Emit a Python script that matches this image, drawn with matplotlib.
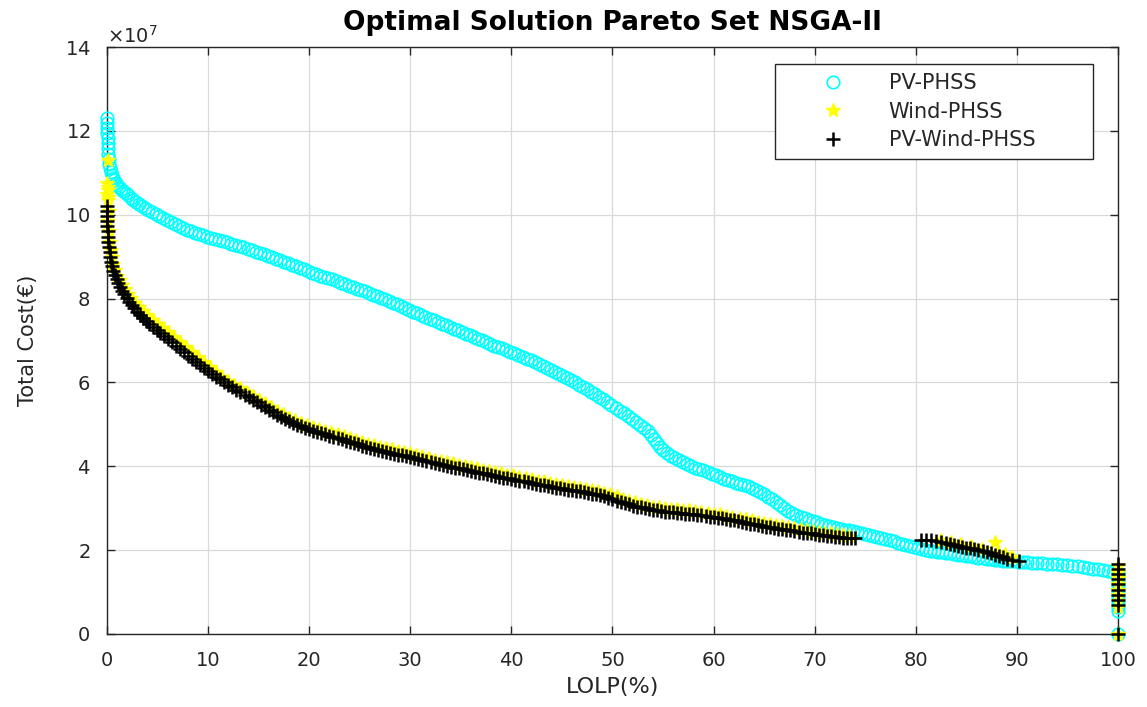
import matplotlib
matplotlib.use("Agg")
import matplotlib.pyplot as plt
from matplotlib.ticker import ScalarFormatter, MultipleLocator

# ---------------- data: (LOLP %, total cost in units of 1e7 EUR) ----------------
pv_phss = [
    (0.0, 12.30), (0.0, 12.18), (0.02, 12.06), (0.03, 11.94), (0.05, 11.82), (0.08, 11.70),
    (0.1, 11.58), (0.13, 11.46), (0.17, 11.34), (0.22, 11.22), (0.28, 11.12), (0.36, 11.03),
    (0.45, 10.95), (0.56, 10.88), (0.7, 10.82), (0.85, 10.76), (1.0, 10.71), (1.2, 10.66),
    (1.4, 10.61), (1.6, 10.56), (1.85, 10.51), (2.1, 10.46), (2.35, 10.41), (2.6, 10.36),
    (2.9, 10.31), (3.2, 10.26), (3.5, 10.21), (3.8, 10.16), (4.1, 10.11), (4.45, 10.06),
    (4.8, 10.01), (5.15, 9.96), (5.5, 9.92), (5.9, 9.87), (6.3, 9.82), (6.7, 9.77),
    (7.1, 9.72), (7.5, 9.68), (7.9, 9.64), (8.3, 9.60), (8.7, 9.57), (9.1, 9.54),
    (9.5, 9.51), (9.9, 9.48), (10.3, 9.45), (10.7, 9.42), (11.1, 9.39), (11.5, 9.37),
    (11.9, 9.34), (12.3, 9.31), (12.7, 9.28), (13.1, 9.25), (13.5, 9.22), (13.9, 9.19),
    (14.3, 9.16), (14.7, 9.12), (15.1, 9.09), (15.5, 9.06), (15.9, 9.02), (16.3, 8.99),
    (16.7, 8.95), (17.1, 8.92), (17.5, 8.88), (17.9, 8.85), (18.3, 8.81), (18.7, 8.78),
    (19.1, 8.74), (19.5, 8.70), (19.9, 8.66), (20.3, 8.62), (20.7, 8.58), (21.1, 8.55),
    (21.5, 8.52), (21.9, 8.49), (22.3, 8.46), (22.7, 8.42), (23.1, 8.38), (23.5, 8.35),
    (23.9, 8.31), (24.3, 8.27), (24.7, 8.24), (25.1, 8.20), (25.5, 8.17), (25.9, 8.13),
    (26.3, 8.09), (26.7, 8.05), (27.1, 8.01), (27.5, 7.98), (27.9, 7.94), (28.3, 7.90),
    (28.7, 7.86), (29.1, 7.82), (29.5, 7.77), (29.9, 7.73), (30.3, 7.69), (30.7, 7.65),
    (31.1, 7.60), (31.5, 7.56), (31.9, 7.52), (32.3, 7.48), (32.7, 7.44), (33.1, 7.40),
    (33.5, 7.36), (33.9, 7.32), (34.3, 7.28), (34.7, 7.24), (35.1, 7.20), (35.5, 7.16),
    (35.9, 7.12), (36.3, 7.08), (36.7, 7.04), (37.1, 7.00), (37.5, 6.96), (37.9, 6.92),
    (38.3, 6.88), (38.7, 6.85), (39.1, 6.81), (39.5, 6.77), (39.9, 6.73), (40.3, 6.69),
    (40.7, 6.65), (41.1, 6.61), (41.5, 6.57), (41.9, 6.53), (42.3, 6.49), (42.7, 6.44),
    (43.1, 6.40), (43.5, 6.35), (43.9, 6.30), (44.3, 6.26), (44.7, 6.21), (45.1, 6.16),
    (45.5, 6.11), (45.9, 6.06), (46.3, 6.00), (46.7, 5.95), (47.1, 5.90), (47.5, 5.84),
    (47.9, 5.78), (48.3, 5.72), (48.7, 5.66), (49.1, 5.60), (49.5, 5.53), (49.9, 5.46),
    (50.3, 5.39), (50.7, 5.32), (51.1, 5.26), (51.5, 5.20), (51.9, 5.13), (52.3, 5.06),
    (52.7, 4.99), (53.1, 4.92), (53.5, 4.84), (53.8, 4.75), (54.1, 4.65), (54.4, 4.55),
    (54.7, 4.46), (55.0, 4.38), (55.4, 4.31), (55.8, 4.25), (56.2, 4.19), (56.6, 4.14),
    (57.0, 4.09), (57.4, 4.05), (57.8, 4.01), (58.2, 3.97), (58.6, 3.94), (59.0, 3.90),
    (59.4, 3.86), (59.8, 3.82), (60.2, 3.78), (60.6, 3.74), (61.0, 3.70), (61.4, 3.67),
    (61.8, 3.64), (62.2, 3.61), (62.6, 3.58), (63.0, 3.55), (63.4, 3.52), (63.8, 3.48),
    (64.2, 3.44), (64.6, 3.39), (65.0, 3.33), (65.4, 3.27), (65.8, 3.21), (66.2, 3.14),
    (66.6, 3.07), (67.0, 3.00), (67.4, 2.94), (67.8, 2.89), (68.2, 2.84), (68.6, 2.80),
    (69.0, 2.76), (69.4, 2.72), (69.8, 2.69), (70.2, 2.66), (70.6, 2.63), (71.0, 2.60),
    (71.4, 2.58), (71.8, 2.55), (72.2, 2.53), (72.6, 2.51), (73.0, 2.49), (73.4, 2.47),
    (73.8, 2.45), (74.2, 2.43), (74.6, 2.41), (75.0, 2.39), (75.4, 2.37), (75.8, 2.34),
    (76.2, 2.32), (76.6, 2.29), (77.0, 2.26), (77.4, 2.24), (77.8, 2.21), (78.2, 2.18),
    (78.6, 2.15), (79.0, 2.12), (79.4, 2.10), (79.8, 2.07), (80.2, 2.05), (80.6, 2.03),
    (81.0, 2.01), (81.4, 1.99), (81.8, 1.98), (82.2, 1.96), (82.6, 1.95), (83.0, 1.93),
    (83.4, 1.92), (83.8, 1.90), (84.2, 1.89), (84.6, 1.88), (85.0, 1.86), (85.4, 1.85),
    (85.8, 1.84), (86.2, 1.82), (86.6, 1.81), (87.0, 1.80), (87.4, 1.78), (87.8, 1.77),
    (88.2, 1.76), (88.6, 1.75), (89.0, 1.74), (89.4, 1.73), (89.8, 1.73), (90.2, 1.72),
    (90.6, 1.72), (91.0, 1.71), (91.5, 1.70), (92.0, 1.70), (92.5, 1.69), (93.0, 1.68),
    (93.5, 1.67), (94.0, 1.66), (94.5, 1.65), (95.0, 1.64), (95.5, 1.63), (96.0, 1.62),
    (96.5, 1.60), (97.0, 1.58), (97.5, 1.56), (98.0, 1.54), (98.5, 1.52), (99.0, 1.50),
    (99.5, 1.47), (100, 1.45), (100, 1.35), (100, 1.25), (100, 1.15), (100, 1.05),
    (100, 0.95), (100, 0.85), (100, 0.75), (100, 0.65), (100, 0.55), (100, 0.0),
]

wind_phss = [
    (0.05, 11.30), (0.0, 10.75), (0.05, 10.65), (0.1, 10.58), (0.0, 10.50), (0.1, 10.42),
    (0.05, 10.34), (0.15, 10.10), (0.1, 9.85), (0.2, 9.60), (0.25, 9.35), (0.35, 9.15),
    (0.45, 8.98), (0.6, 8.82), (0.8, 8.68), (1.0, 8.55), (1.25, 8.44), (1.5, 8.33),
    (1.8, 8.22), (2.1, 8.11), (2.4, 8.01), (2.8, 7.90), (3.2, 7.80), (3.6, 7.70),
    (4.0, 7.60), (4.5, 7.50), (5.0, 7.40), (5.5, 7.30), (6.0, 7.20), (6.6, 7.08),
    (7.2, 6.96), (7.8, 6.84), (8.4, 6.72), (9.0, 6.60), (9.6, 6.48), (10.2, 6.36),
    (10.8, 6.25), (11.4, 6.14), (12.0, 6.04), (12.6, 5.95), (13.2, 5.86), (13.8, 5.77),
    (14.4, 5.68), (15.0, 5.59), (15.6, 5.50), (16.2, 5.41), (16.8, 5.32), (17.4, 5.24),
    (18.0, 5.16), (18.6, 5.10), (19.2, 5.04), (19.8, 4.99), (20.4, 4.94), (21.0, 4.90),
    (21.6, 4.85), (22.2, 4.81), (22.8, 4.76), (23.4, 4.72), (24.0, 4.67), (24.6, 4.63),
    (25.2, 4.58), (25.8, 4.54), (26.4, 4.50), (27.0, 4.46), (27.6, 4.43), (28.2, 4.40),
    (28.8, 4.37), (29.4, 4.34), (30.0, 4.31), (30.6, 4.27), (31.2, 4.24), (31.8, 4.20),
    (32.4, 4.16), (33.0, 4.13), (33.6, 4.10), (34.2, 4.07), (34.8, 4.04), (35.4, 4.01),
    (36.0, 3.98), (36.6, 3.95), (37.2, 3.92), (37.8, 3.89), (38.4, 3.86), (39.0, 3.83),
    (39.6, 3.80), (40.2, 3.78), (40.8, 3.75), (41.4, 3.72), (42.0, 3.69), (42.6, 3.66),
    (43.2, 3.64), (43.8, 3.61), (44.4, 3.58), (45.0, 3.56), (45.6, 3.53), (46.2, 3.51),
    (46.8, 3.49), (47.4, 3.46), (48.0, 3.44), (48.6, 3.41), (49.2, 3.37), (49.8, 3.33),
    (50.4, 3.28), (51.0, 3.23), (51.6, 3.18), (52.2, 3.14), (52.8, 3.10), (53.4, 3.07),
    (54.0, 3.04), (54.6, 3.02), (55.2, 3.00), (55.8, 2.99), (56.4, 2.97), (57.0, 2.96),
    (57.6, 2.95), (58.2, 2.93), (58.8, 2.91), (59.4, 2.89), (60.0, 2.87), (60.6, 2.85),
    (61.2, 2.82), (61.8, 2.80), (62.6, 2.77), (63.2, 2.74), (63.8, 2.71), (64.4, 2.68),
    (65.0, 2.65), (65.6, 2.62), (66.2, 2.60), (66.8, 2.57), (67.4, 2.55), (68.0, 2.53),
    (68.6, 2.50), (69.2, 2.48), (69.8, 2.46), (70.4, 2.44), (71.0, 2.42), (71.6, 2.40),
    (72.2, 2.38), (72.8, 2.36), (73.4, 2.34),
    (82.5, 2.25), (83.5, 2.20), (84.5, 2.15), (85.5, 2.09), (86.5, 2.03), (87.8, 2.20),
    (88.0, 1.95), (88.8, 1.90), (89.5, 1.84),
    (100, 1.62), (100, 1.48), (100, 1.34), (100, 1.20), (100, 1.06), (100, 0.92),
    (100, 0.78), (100, 0.65), (100, 0.0),
]

pv_wind_phss = [
    (0.0, 10.20), (0.0, 10.08), (0.0, 9.96), (0.02, 9.84), (0.04, 9.72), (0.06, 9.60),
    (0.1, 9.48), (0.14, 9.36), (0.2, 9.24), (0.26, 9.12), (0.33, 9.00), (0.42, 8.88),
    (0.52, 8.77), (0.64, 8.66), (0.78, 8.56), (0.94, 8.46), (1.1, 8.37), (1.3, 8.28),
    (1.5, 8.19), (1.7, 8.10), (1.95, 8.01), (2.2, 7.93), (2.45, 7.85), (2.7, 7.77),
    (3.0, 7.69), (3.3, 7.61), (3.6, 7.53), (3.9, 7.46), (4.2, 7.39), (4.55, 7.32),
    (4.9, 7.25), (5.25, 7.18), (5.6, 7.11), (6.0, 7.04), (6.4, 6.96), (6.8, 6.88),
    (7.2, 6.80), (7.6, 6.72), (8.0, 6.64), (8.4, 6.56), (8.8, 6.49), (9.2, 6.42),
    (9.6, 6.35), (10.0, 6.28), (10.4, 6.21), (10.8, 6.14), (11.2, 6.07), (11.6, 6.01),
    (12.0, 5.95), (12.4, 5.89), (12.8, 5.83), (13.2, 5.77), (13.6, 5.71), (14.0, 5.65),
    (14.4, 5.59), (14.8, 5.53), (15.2, 5.47), (15.6, 5.41), (16.0, 5.35), (16.4, 5.29),
    (16.8, 5.23), (17.2, 5.17), (17.6, 5.12), (18.0, 5.07), (18.4, 5.03), (18.8, 4.99),
    (19.2, 4.95), (19.6, 4.91), (20.0, 4.88), (20.4, 4.85), (20.8, 4.82), (21.2, 4.79),
    (21.6, 4.76), (22.0, 4.73), (22.4, 4.70), (22.8, 4.67), (23.2, 4.64), (23.6, 4.61),
    (24.0, 4.58), (24.4, 4.55), (24.8, 4.52), (25.2, 4.49), (25.6, 4.46), (26.0, 4.43),
    (26.4, 4.41), (26.8, 4.38), (27.2, 4.36), (27.6, 4.34), (28.0, 4.32), (28.4, 4.30),
    (28.8, 4.28), (29.2, 4.26), (29.6, 4.24), (30.0, 4.22), (30.4, 4.20), (30.8, 4.17),
    (31.2, 4.15), (31.6, 4.12), (32.0, 4.10), (32.4, 4.07), (32.8, 4.05), (33.2, 4.03),
    (33.6, 4.01), (34.0, 3.99), (34.4, 3.97), (34.8, 3.95), (35.2, 3.93), (35.6, 3.91),
    (36.0, 3.89), (36.4, 3.87), (36.8, 3.85), (37.2, 3.83), (37.6, 3.81), (38.0, 3.79),
    (38.4, 3.77), (38.8, 3.75), (39.2, 3.73), (39.6, 3.71), (40.0, 3.70), (40.4, 3.68),
    (40.8, 3.66), (41.2, 3.64), (41.6, 3.62), (42.0, 3.60), (42.4, 3.58), (42.8, 3.56),
    (43.2, 3.55), (43.6, 3.53), (44.0, 3.51), (44.4, 3.49), (44.8, 3.47), (45.2, 3.46),
    (45.6, 3.44), (46.0, 3.43), (46.4, 3.41), (46.8, 3.40), (47.2, 3.38), (47.6, 3.37),
    (48.0, 3.35), (48.4, 3.33), (48.8, 3.31), (49.2, 3.28), (49.6, 3.25), (50.0, 3.22),
    (50.4, 3.18), (50.8, 3.15), (51.2, 3.12), (51.6, 3.09), (52.0, 3.06), (52.4, 3.04),
    (52.8, 3.02), (53.2, 3.00), (53.6, 2.98), (54.0, 2.96), (54.4, 2.95), (54.8, 2.93),
    (55.2, 2.92), (55.6, 2.91), (56.0, 2.90), (56.4, 2.89), (56.8, 2.88), (57.2, 2.87),
    (57.6, 2.86), (58.0, 2.85), (58.4, 2.84), (58.8, 2.83), (59.2, 2.82), (59.6, 2.80),
    (60.0, 2.79), (60.4, 2.77), (60.8, 2.76), (61.2, 2.74), (61.6, 2.73), (62.0, 2.71),
    (62.4, 2.69), (62.8, 2.67), (63.2, 2.65), (63.6, 2.63), (64.0, 2.62), (64.4, 2.60),
    (64.8, 2.58), (65.2, 2.56), (65.6, 2.54), (66.0, 2.53), (66.4, 2.51), (66.8, 2.50),
    (67.2, 2.48), (67.6, 2.47), (68.0, 2.45), (68.4, 2.44), (68.8, 2.42), (69.2, 2.41),
    (69.6, 2.40), (70.0, 2.38), (70.4, 2.37), (70.8, 2.35), (71.2, 2.34), (71.6, 2.33),
    (72.0, 2.32), (72.4, 2.31), (72.8, 2.30), (73.2, 2.29), (73.6, 2.29), (74.0, 2.28),
    (80.5, 2.25), (81.0, 2.24), (81.5, 2.23), (82.0, 2.21), (82.5, 2.19), (83.0, 2.16),
    (83.4, 2.14), (83.8, 2.12), (84.2, 2.10), (84.6, 2.08), (85.0, 2.06), (85.4, 2.04),
    (85.8, 2.02), (86.2, 2.00), (86.6, 1.97), (87.0, 1.95), (87.4, 1.92), (87.8, 1.89),
    (88.2, 1.86), (88.6, 1.83), (89.0, 1.80), (89.5, 1.77), (90.2, 1.74),
    (100, 1.68), (100, 1.55), (100, 1.42), (100, 1.30), (100, 1.18), (100, 1.06),
    (100, 0.92), (100, 0.80), (100, 0.68), (100, 0.0),
]

labels = ["PV-PHSS", "Wind-PHSS", "PV-Wind-PHSS"]
scale = 1e7


def split(points):
    xs = [p[0] for p in points]
    ys = [p[1] * scale for p in points]
    return xs, ys


# ---------------- figure ----------------
plt.rcParams['font.family'] = ['DejaVu Sans']
fig = plt.figure(figsize=(11.47, 7.07), dpi=100)
ax = fig.add_axes([0.0933, 0.1033, 0.8814, 0.8302])

x, y = split(pv_phss)
ax.plot(x, y, linestyle='none', marker='o', ms=9, mfc='none', mec=(0, 1, 1),
        mew=1.2, label=labels[0], zorder=3, clip_on=False)
x, y = split(wind_phss)
ax.plot(x, y, linestyle='none', marker='*', ms=10, mfc=(1, 1, 0), mec=(1, 1, 0),
        mew=1.0, label=labels[1], zorder=4, clip_on=False)
x, y = split(pv_wind_phss)
ax.plot(x, y, linestyle='none', marker='+', ms=10, mec='black', mew=1.8,
        label=labels[2], zorder=5, clip_on=False)

ax.set_xlim(0, 100)
ax.set_ylim(0, 14e7)
ax.xaxis.set_major_locator(MultipleLocator(10))
ax.yaxis.set_major_locator(MultipleLocator(2e7))
fmt = ScalarFormatter(useMathText=True)
fmt.set_powerlimits((7, 7))
ax.yaxis.set_major_formatter(fmt)
ax.yaxis.get_offset_text().set_fontsize(14)
ax.yaxis.get_offset_text().set_color('0.15')

ax.grid(True, color='0.85', linewidth=0.9)
ax.set_axisbelow(True)
ax.tick_params(direction='in', length=6, width=1, top=True, right=True,
               labelsize=14, colors='0.15')
ax.tick_params(axis='x', pad=12)
ax.tick_params(axis='y', pad=12)
for s in ax.spines.values():
    s.set_color('0.15')
    s.set_linewidth(1.0)

ax.set_title("Optimal Solution Pareto Set NSGA-II", fontsize=19,
             fontweight='bold', pad=12)
ax.set_xlabel("LOLP(%)", fontsize=16, color='0.15')
ax.xaxis.set_label_coords(0.5, -0.073)
ax.xaxis.label.set_va('top')
ax.set_ylabel("Total Cost(€)", fontsize=15, color='0.15')
ax.yaxis.set_label_coords(-0.068, 0.5)

leg = ax.legend(loc='upper left', bbox_to_anchor=(0.661, 0.816, 0.3145, 0.155),
                mode='expand', borderaxespad=0,
                fontsize=15, handlelength=4.6, handletextpad=0.4, labelspacing=0.4,
                borderpad=0.45, fancybox=False, edgecolor='0.15', framealpha=1)
leg.get_frame().set_linewidth(1.0)
leg.set_zorder(10)
for t in leg.get_texts():
    t.set_color('0.15')

fig.savefig("out.png", dpi=100)
